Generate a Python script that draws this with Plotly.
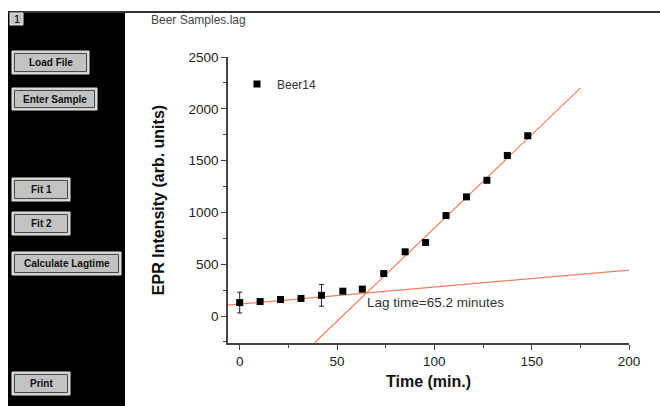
import plotly.graph_objects as go
import numpy as np

# ---- data ----
time_min = [0, 10.5, 21, 31.5, 42, 53, 63, 74, 85, 95.5, 106, 116.5, 127, 137.5, 148]
epr_intensity = [130, 140, 160, 170, 200, 240, 260, 410, 620, 710, 970, 1150, 1310, 1550, 1740]
error_values = [100, 0, 0, 0, 105, 0, 0, 0, 0, 0, 0, 0, 0, 0, 0]
series_name = "Beer14"

# fit parameters
fit1_slope, fit1_intercept = 1.64, 116.0
fit2_slope = 18.0
lag_time = 65.2
fit2_intercept = fit1_intercept + fit1_slope * lag_time - fit2_slope * lag_time
fit2_end = 175

x_range = [-6, 200]
y_range = [-260, 2500]
x_ticks = [0, 50, 100, 150, 200]
y_ticks = [0, 500, 1000, 1500, 2000, 2500]

buttons = ["Load File", "Enter Sample", "Fit 1", "Fit 2", "Calculate Lagtime", "Print"]

# ---- layout geometry (pixels) ----
W, H = 660, 406
ML, MR, MT, MB = 228, 31, 57, 63
PW, PH = W - ML - MR, H - MT - MB


def fx(px):
    return (px - ML) / PW


def fy(py):
    return (H - MB - py) / PH


FONT = "Liberation Sans, Arial, sans-serif"
FIT_COLOR = "#f2805f"

fig = go.Figure()

# fit lines
x1 = np.array(x_range, dtype=float)
fig.add_trace(go.Scatter(x=x1, y=fit1_slope * x1 + fit1_intercept, mode="lines",
                         line=dict(color=FIT_COLOR, width=1.2), showlegend=False, hoverinfo="skip"))
x2_start = (y_range[0] - fit2_intercept) / fit2_slope
x2 = np.array([x2_start, fit2_end])
fig.add_trace(go.Scatter(x=x2, y=fit2_slope * x2 + fit2_intercept, mode="lines",
                         line=dict(color=FIT_COLOR, width=1.2), showlegend=False, hoverinfo="skip"))

# data
fig.add_trace(go.Scatter(
    x=time_min, y=epr_intensity, mode="markers", name=series_name,
    marker=dict(symbol="square", size=7, color="black"),
    error_y=dict(type="data", array=error_values, visible=True, color="#222", thickness=1, width=2.5),
))

shapes = []
annotations = []

# left black panel
shapes.append(dict(type="rect", xref="paper", yref="paper", x0=fx(8), x1=fx(125), y0=fy(406), y1=fy(11.5),
                   fillcolor="black", line=dict(width=0), layer="below"))
# top line
shapes.append(dict(type="line", xref="paper", yref="paper", x0=fx(8), x1=fx(660), y0=fy(12), y1=fy(12),
                   line=dict(color="#333", width=2)))
# "1" box
shapes.append(dict(type="rect", xref="paper", yref="paper", x0=fx(10), x1=fx(23), y0=fy(25), y1=fy(13),
                   fillcolor="#c4c4c4", line=dict(color="#e8e8e8", width=1)))
annotations.append(dict(text="1", x=fx(16.5), y=fy(19), xref="paper", yref="paper", showarrow=False,
                        font=dict(family=FONT, size=11, color="black"), xanchor="center", yanchor="middle"))

# buttons: (x0, x1, y0, y1)
button_boxes = [(12, 89, 51, 74), (12, 97, 88, 110), (12, 70, 178, 201), (12, 70, 212, 235),
                (12, 121, 252, 275), (12, 70, 372, 395)]
for label, (bx0, bx1, by0, by1) in zip(buttons, button_boxes):
    shapes.append(dict(type="rect", xref="paper", yref="paper", x0=fx(bx0), x1=fx(bx1), y0=fy(by1), y1=fy(by0),
                       fillcolor="#cfcfcf", line=dict(color="#e4e4e4", width=1)))
    shapes.append(dict(type="rect", xref="paper", yref="paper", x0=fx(bx0 + 2.5), x1=fx(bx1 - 2.5),
                       y0=fy(by1 - 2.5), y1=fy(by0 + 2.5),
                       fillcolor="#c2c2c2", line=dict(color="#4a4a4a", width=1)))
    annotations.append(dict(text="<b>%s</b>" % label, x=fx((bx0 + bx1) / 2), y=fy((by0 + by1) / 2),
                            xref="paper", yref="paper", showarrow=False,
                            font=dict(family=FONT, size=10, color="#111"),
                            xanchor="center", yanchor="middle"))

# file title
annotations.append(dict(text="Beer Samples.lag", x=fx(149), y=fy(20), xref="paper", yref="paper",
                        showarrow=False, xanchor="left", yanchor="middle",
                        font=dict(family=FONT, size=12, color="#444")))

# lag time label
annotations.append(dict(text="Lag time=%.1f minutes" % lag_time, x=fx(365), y=fy(302.5), xref="paper",
                        yref="paper", showarrow=False, xanchor="left", yanchor="middle",
                        font=dict(family=FONT, size=13.5, color="#333")))

axis_common = dict(showline=True, linecolor="#444", linewidth=1.5, ticks="outside", ticklen=5,
                   tickwidth=1.2, tickcolor="#444", showgrid=False, zeroline=False,
                   tickfont=dict(family=FONT, size=13.5, color="#222"))

fig.update_layout(
    width=W, height=H,
    margin=dict(l=ML, r=MR, t=MT, b=MB),
    paper_bgcolor="white", plot_bgcolor="white",
    xaxis=dict(range=x_range, tickvals=x_ticks,
               minor=dict(ticks="outside", ticklen=3, dtick=25, tickcolor="#444", showgrid=False),
               title=dict(text="<b>Time (min.)</b>", standoff=8,
                          font=dict(family=FONT, size=16, color="#111")),
               **axis_common),
    yaxis=dict(range=y_range, tickvals=y_ticks,
               minor=dict(ticks="outside", ticklen=3, dtick=250, tickcolor="#444", showgrid=False),
               title=dict(text="<b>EPR Intensity (arb. units)</b>", standoff=20,
                          font=dict(family=FONT, size=16, color="#111")),
               **axis_common),
    showlegend=True,
    legend=dict(x=fx(237), y=fy(84), xanchor="left", yanchor="middle", bgcolor="rgba(0,0,0,0)",
                font=dict(family=FONT, size=12, color="#333")),
    shapes=shapes,
    annotations=annotations,
)

fig.write_html("out.html")
